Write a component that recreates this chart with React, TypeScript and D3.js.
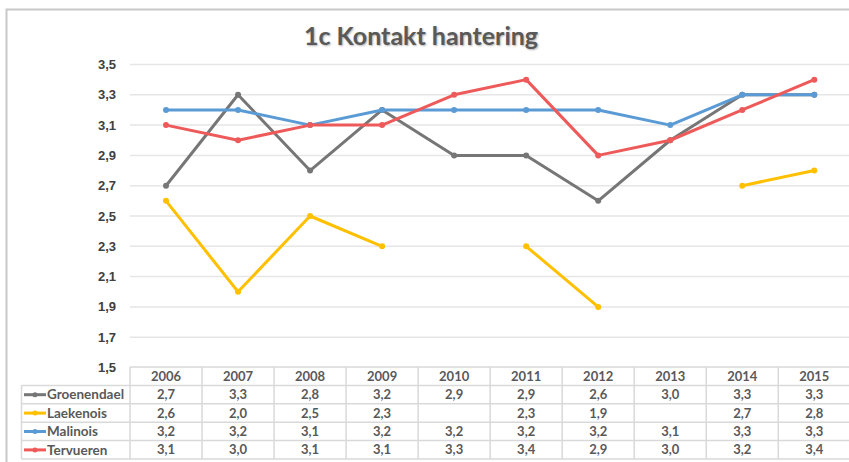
import React from 'react';
import * as d3 from 'd3';

const years = ['2006', '2007', '2008', '2009', '2010', '2011', '2012', '2013', '2014', '2015'];
const seriesNames = ['Groenendael', 'Laekenois', 'Malinois', 'Tervueren'];
const groenendael = [2.7, 3.3, 2.8, 3.2, 2.9, 2.9, 2.6, 3.0, 3.3, 3.3];
const laekenois = [2.6, 2.0, 2.5, 2.3, null, 2.3, 1.9, null, 2.7, 2.8];
const malinois = [3.2, 3.2, 3.1, 3.2, 3.2, 3.2, 3.2, 3.1, 3.3, 3.3];
const tervueren = [3.1, 3.0, 3.1, 3.1, 3.3, 3.4, 2.9, 3.0, 3.2, 3.4];
const yTicks = [1.5, 1.7, 1.9, 2.1, 2.3, 2.5, 2.7, 2.9, 3.1, 3.3, 3.5];
const colors = ['#767676', '#ffc000', '#5b9bd5', '#ee5a5a'];

const W = 849;
const H = 462;
const fmt = (v: number) => v.toFixed(1).replace('.', ',');

export default function App() {
  const values = [groenendael, laekenois, malinois, tervueren];
  const x = d3.scaleBand().domain(years).range([130, 130 + 72.03 * 10]);
  const y = d3.scaleLinear().domain([1.5, 3.5]).range([367.5, 64.5]);
  const rowTop = 367;
  const rowH = [18.5, 18.5, 18.5, 18.5, 18.5];
  const rowY = rowH.map((_, i) => rowTop + i * 18.4);
  const tableBottom = rowTop + 5 * 18.4;
  const tableFont = 'Lato, "Open Sans", sans-serif';

  const line = d3
    .line<number | null>()
    .defined(d => d !== null)
    .x((_, i) => (x(years[i]) as number) + x.bandwidth() / 2)
    .y(d => y(d as number));

  return (
    <div style={{ position: 'absolute', left: 0, top: 0 }}>
      <svg width={W} height={H} style={{ display: 'block', background: '#fff' }}>
        {/* chart frame */}
        <path d={`M6.5,${H} V9.5 H${W}`} fill="none" stroke="#c8c8c8" strokeWidth={2} />
        <text
          x={421}
          y={45}
          textAnchor="middle"
          fontFamily={tableFont}
          fontWeight="bold"
          fontSize={25}
          fill="#595959"
          style={{ textShadow: '1px 1px 2px rgba(0,0,0,0.3)' }}
        >
          1c Kontakt hantering
        </text>

        {/* gridlines + y ticks */}
        {yTicks.map(t => (
          <g key={t}>
            {t > 1.5 && (
              <line x1={130} x2={W} y1={y(t)} y2={y(t)} stroke="#e6e6e6" strokeWidth={1.5} />
            )}
            <text
              x={116}
              y={y(t)}
              dy="0.35em"
              textAnchor="end"
              fontFamily='"Liberation Sans", Arial, sans-serif'
              fontWeight="bold"
              fontSize={13}
              fill="#404040"
            >
              {fmt(t)}
            </text>
          </g>
        ))}

        {/* lines */}
        {values.map((vals, s) => (
          <g key={s}>
            <path d={line(vals) || ''} fill="none" stroke={colors[s]} strokeWidth={3} strokeLinejoin="round" />
            {vals.map((v, i) =>
              v === null ? null : (
                <circle key={i} cx={(x(years[i]) as number) + x.bandwidth() / 2} cy={y(v)} r={3} fill={colors[s]} />
              )
            )}
          </g>
        ))}

        {/* data table */}
        <g stroke="#d9d9d9" strokeWidth={1.5}>
          <line x1={130} x2={W} y1={rowTop} y2={rowTop} />
          {[1, 2, 3, 4, 5].map(r => (
            <line key={r} x1={21.5} x2={W} y1={rowTop + r * 18.4} y2={rowTop + r * 18.4} />
          ))}
          <line x1={21.5} x2={21.5} y1={rowTop + 18.4} y2={tableBottom} />
          {years.map(yr => (
            <line key={yr} x1={x(yr) as number} x2={x(yr) as number} y1={rowTop} y2={tableBottom} />
          ))}
        </g>
        {years.map(yr => (
          <text
            key={yr}
            x={(x(yr) as number) + x.bandwidth() / 2}
            y={rowY[0] + 9.5}
            dy="0.35em"
            textAnchor="middle"
            fontFamily={tableFont}
            fontWeight="bold"
            fontSize={13}
            fill="#595959"
          >
            {yr}
          </text>
        ))}
        {values.map((vals, s) => {
          const cy = rowY[s + 1] + 9.3;
          return (
            <g key={s}>
              <line x1={24} x2={46} y1={cy} y2={cy} stroke={colors[s]} strokeWidth={3} />
              <circle cx={35} cy={cy} r={2.5} fill={colors[s]} />
              <text
                x={47}
                y={cy}
                dy="0.35em"
                fontFamily={tableFont}
                fontWeight="bold"
                fontSize={13.5}
                fill="#595959"
              >
                {seriesNames[s]}
              </text>
              {vals.map((v, i) =>
                v === null ? null : (
                  <text
                    key={i}
                    x={(x(years[i]) as number) + x.bandwidth() / 2}
                    y={cy}
                    dy="0.35em"
                    textAnchor="middle"
                    fontFamily={tableFont}
                    fontWeight="bold"
                    fontSize={13}
                    fill="#595959"
                  >
                    {fmt(v)}
                  </text>
                )
              )}
            </g>
          );
        })}
      </svg>
    </div>
  );
}
